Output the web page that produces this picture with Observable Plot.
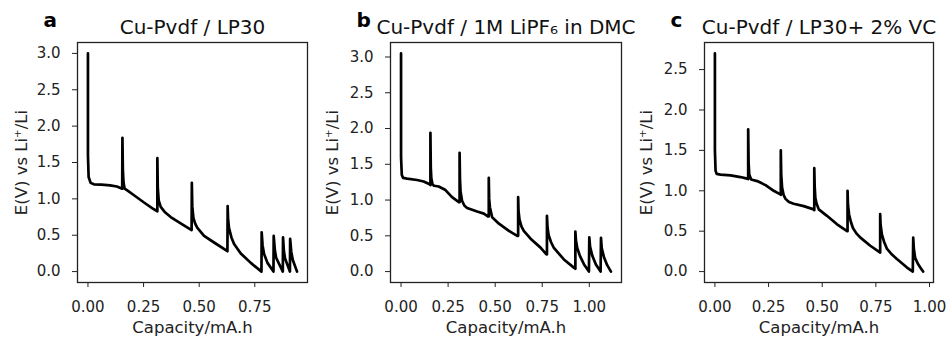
<!DOCTYPE html>
<html>
<head>
<meta charset="utf-8">
<script src="https://cdn.jsdelivr.net/npm/d3@7"></script>
<script src="https://cdn.jsdelivr.net/npm/@observablehq/plot@0.6"></script>
<style>
  html, body { margin: 0; padding: 0; background: #fff; }
  #chart { display: flex; width: 949px; height: 338px; background: #fff; }
  #chart svg { display: block; overflow: visible; }
</style>
</head>
<body>
<div id="chart"></div>
<script>
// ---------- Panel a: Cu-Pvdf / LP30 ----------
const capA = [0, 0.000, 0.003, 0.012, 0.027, 0.06, 0.10, 0.13, 0.154,
  0.155, 0.157, 0.160, 0.165, 0.18, 0.207, 0.252, 0.29, 0.312,
  0.312, 0.314, 0.318, 0.327, 0.345, 0.372, 0.424, 0.466,
  0.467, 0.469, 0.474, 0.482, 0.492, 0.522, 0.567, 0.627,
  0.628, 0.630, 0.634, 0.645, 0.657, 0.687, 0.732, 0.780,
  0.781, 0.785, 0.792, 0.807, 0.834,
  0.835, 0.840, 0.846, 0.876,
  0.877, 0.881, 0.886, 0.908,
  0.909, 0.914, 0.921, 0.940];
const voltA = [3.00, 1.60, 1.30, 1.22, 1.20, 1.195, 1.185, 1.17, 1.14,
  1.84, 1.40, 1.22, 1.14, 1.11, 1.05, 0.95, 0.87, 0.83,
  1.56, 1.15, 0.98, 0.89, 0.82, 0.75, 0.65, 0.57,
  1.22, 0.90, 0.74, 0.66, 0.60, 0.49, 0.40, 0.28,
  0.90, 0.72, 0.60, 0.47, 0.38, 0.25, 0.12, 0.00,
  0.54, 0.36, 0.24, 0.12, 0.00,
  0.49, 0.30, 0.19, 0.00,
  0.47, 0.28, 0.18, 0.00,
  0.45, 0.27, 0.16, 0.00];

// ---------- Panel b: Cu-Pvdf / 1M LiPF6 in DMC ----------
const capB = [0, 0, 0.004, 0.011, 0.032, 0.085, 0.12, 0.152, 0.156,
  0.156, 0.158, 0.161, 0.167, 0.175, 0.200, 0.236, 0.271, 0.307, 0.311,
  0.311, 0.313, 0.316, 0.324, 0.337, 0.351, 0.404, 0.440, 0.463, 0.466,
  0.466, 0.468, 0.472, 0.484, 0.520, 0.573, 0.617, 0.622,
  0.622, 0.624, 0.629, 0.640, 0.652, 0.688, 0.741, 0.771, 0.775,
  0.775, 0.778, 0.784, 0.797, 0.812, 0.865, 0.918, 0.926,
  0.926, 0.929, 0.936, 0.950, 0.972, 0.998,
  1.000, 1.004, 1.016, 1.035, 1.060,
  1.062, 1.066, 1.078, 1.095, 1.115];
const voltB = [3.05, 1.60, 1.35, 1.31, 1.30, 1.28, 1.26, 1.22, 1.21,
  1.94, 1.45, 1.30, 1.22, 1.20, 1.19, 1.14, 1.04, 0.97, 0.97,
  1.66, 1.30, 1.12, 0.99, 0.92, 0.89, 0.84, 0.81, 0.77, 0.77,
  1.31, 1.02, 0.90, 0.76, 0.67, 0.57, 0.50, 0.50,
  1.04, 0.85, 0.73, 0.63, 0.57, 0.46, 0.335, 0.245, 0.24,
  0.78, 0.62, 0.51, 0.41, 0.33, 0.17, 0.056, 0.04,
  0.56, 0.44, 0.33, 0.22, 0.10, 0.00,
  0.48, 0.35, 0.22, 0.10, 0.00,
  0.47, 0.33, 0.20, 0.09, 0.00];

// ---------- Panel c: Cu-Pvdf / LP30+ 2% VC ----------
const capC = [0, 0, 0.003, 0.008, 0.026, 0.073, 0.119, 0.150, 0.155,
  0.155, 0.157, 0.160, 0.169, 0.197, 0.236, 0.274, 0.305, 0.307,
  0.307, 0.309, 0.313, 0.320, 0.329, 0.345, 0.367, 0.414, 0.460, 0.463,
  0.463, 0.465, 0.468, 0.474, 0.484, 0.522, 0.569, 0.616, 0.618,
  0.618, 0.620, 0.625, 0.633, 0.643, 0.660, 0.678, 0.724, 0.767, 0.770,
  0.770, 0.772, 0.778, 0.788, 0.802, 0.825, 0.848, 0.895, 0.922,
  0.924, 0.927, 0.933, 0.945, 0.957, 0.970];
const voltC = [2.70, 1.50, 1.25, 1.21, 1.20, 1.19, 1.17, 1.15, 1.145,
  1.76, 1.35, 1.20, 1.14, 1.12, 1.07, 1.00, 0.955, 0.95,
  1.50, 1.20, 1.04, 0.95, 0.90, 0.86, 0.84, 0.81, 0.77, 0.76,
  1.28, 1.05, 0.91, 0.84, 0.77, 0.69, 0.585, 0.50, 0.50,
  1.00, 0.83, 0.71, 0.62, 0.54, 0.47, 0.42, 0.32, 0.24, 0.235,
  0.71, 0.58, 0.46, 0.37, 0.28, 0.21, 0.155, 0.05, 0.00,
  0.42, 0.28, 0.17, 0.10, 0.05, 0.00];

// ---------- Texts & ticks ----------
const titles = ["Cu-Pvdf / LP30", "Cu-Pvdf / 1M LiPF\u2086 in DMC", "Cu-Pvdf / LP30+ 2% VC"];
const letters = ["a", "b", "c"];
const xLabel = "Capacity/mA.h";
const yLabel = "E(V) vs Li\u207A/Li";
const xTicksA = [0, 0.25, 0.5, 0.75];
const xTicksBC = [0, 0.25, 0.5, 0.75, 1.0];
const yTicksAB = [0, 0.5, 1.0, 1.5, 2.0, 2.5, 3.0];
const yTicksC = [0, 0.5, 1.0, 1.5, 2.0, 2.5];

function panel(cfg) {
  return Plot.plot({
    width: cfg.width,
    height: 338,
    marginLeft: cfg.ml,
    marginRight: cfg.mr,
    marginTop: 42,
    marginBottom: 56,
    style: {fontFamily: "DejaVu Sans", fontSize: "15px", color: "#222", background: "transparent", overflow: "visible"},
    x: {domain: cfg.xDomain},
    y: {domain: cfg.yDomain},
    marks: [
      Plot.axisX({ticks: cfg.xTicks, tickFormat: ".2f", tickSize: 5, tickPadding: 14, fontSize: 15, label: null, stroke: "#222", fill: "#222"}),
      Plot.axisY({ticks: cfg.yTicks, tickFormat: ".1f", tickSize: 5, tickPadding: 12, fontSize: 15, label: null, stroke: "#222", fill: "#222"}),
      Plot.frame({stroke: "#222", strokeWidth: 1.3}),
      Plot.line(cfg.cap, {x: cfg.cap, y: cfg.volt, stroke: "#000", strokeWidth: 2.7, strokeLinejoin: "round", strokeLinecap: "round"}),
      Plot.text([cfg.title], {frameAnchor: "top", dy: -9, lineAnchor: "bottom", fontSize: 20, fill: "#111"}),
      Plot.text([cfg.letter], {frameAnchor: "top-left", dx: -34, dy: -16, lineAnchor: "bottom", textAnchor: "start", fontSize: 20, fontWeight: "bold", fill: "#000"}),
      Plot.text([xLabel], {frameAnchor: "bottom", dy: 50.5, lineAnchor: "bottom", fontSize: 16.5, fill: "#222"}),
      Plot.text([yLabel], {frameAnchor: "left", dx: cfg.ylabDx, rotate: -90, lineAnchor: "middle", textAnchor: "middle", fontSize: 16.5, fill: "#222"})
    ]
  });
}

const chart = document.getElementById("chart");
chart.append(panel({width: 316, ml: 77, mr: 9, cap: capA, volt: voltA,
  xDomain: [-0.047, 0.987], yDomain: [-0.15, 3.15], xTicks: xTicksA, yTicks: yTicksAB,
  title: titles[0], letter: letters[0], ylabDx: -55.5}));
chart.append(panel({width: 316, ml: 74, mr: 11, cap: capB, volt: voltB,
  xDomain: [-0.056, 1.171], yDomain: [-0.1525, 3.2025], xTicks: xTicksBC, yTicks: yTicksAB,
  title: titles[1], letter: letters[1], ylabDx: -58}));
chart.append(panel({width: 317, ml: 72, mr: 16, cap: capC, volt: voltC,
  xDomain: [-0.0485, 1.0185], yDomain: [-0.135, 2.835], xTicks: xTicksBC, yTicks: yTicksC,
  title: titles[2], letter: letters[2], ylabDx: -58}));
</script>
</body>
</html>
